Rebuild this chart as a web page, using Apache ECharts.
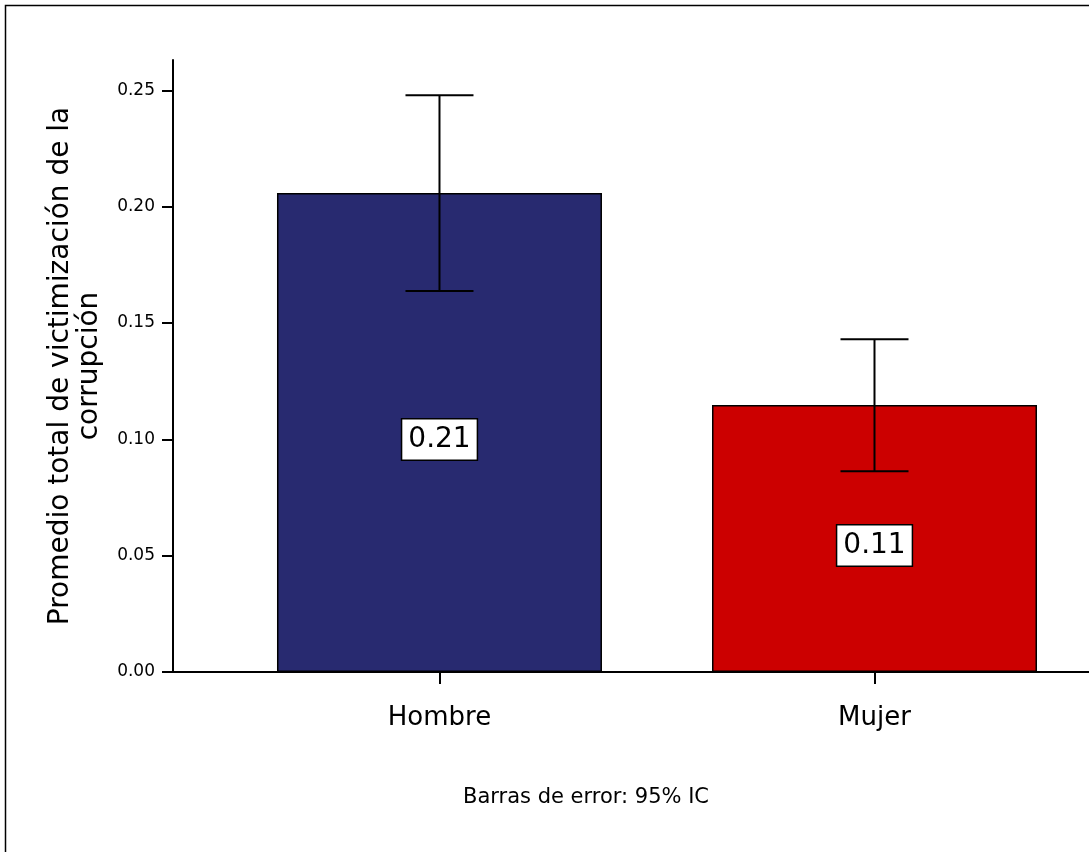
<!DOCTYPE html>
<html>
<head>
<meta charset="utf-8">
<script src="https://cdn.jsdelivr.net/npm/echarts@6/dist/echarts.min.js"></script>
<style>html,body{margin:0;padding:0;background:#fff}#c{width:1089px;height:852px}</style>
</head>
<body>
<div id="c"></div>
<script>
const categories = ['Hombre', 'Mujer'];
const means = [0.2058, 0.1147];
const ciLower = [0.1637, 0.0863];
const ciUpper = [0.2479, 0.1430];
const yTicks = [0, 0.05, 0.10, 0.15, 0.20, 0.25];
const barColors = ['#282A70', '#CC0000'];

const chart = echarts.init(document.getElementById('c'));
const FONT = 'DejaVu Sans';
chart.setOption({
  animation: false,
  backgroundColor: '#fff',
  graphic: [{
    type: 'rect', shape: {x: 5.5, y: 5.5, width: 1200, height: 1000},
    style: {fill: 'none', stroke: '#000', lineWidth: 1.5}, silent: true, z: 0
  }, {
    type: 'text', x: 586, y: 798,
    style: {text: 'Barras de error: 95% IC', font: '21px "DejaVu Sans"', fill: '#000', align: 'center', verticalAlign: 'middle'}
  }],
  grid: {left: 173, right: 0, top: 60, bottom: 180, containLabel: false},
  xAxis: {
    type: 'value', min: -0.6126, max: 1.4931,
    splitLine: {show: false},
    axisLine: {show: true, onZero: false, lineStyle: {color: '#000', width: 2}},
    axisTick: {show: true, length: 12, customValues: [0, 1], lineStyle: {color: '#000', width: 2}},
    axisLabel: {customValues: [0, 1], formatter: v => categories[Math.round(v)] || '',
      fontFamily: FONT, fontSize: 26, color: '#000', margin: 33}
  },
  yAxis: {
    type: 'value', min: 0, max: 0.263,
    splitLine: {show: false},
    axisLine: {show: true, onZero: false, lineStyle: {color: '#000', width: 2}},
    axisTick: {show: true, length: 11, customValues: yTicks, lineStyle: {color: '#000', width: 2}},
    axisLabel: {customValues: yTicks, formatter: v => v.toFixed(2),
      fontFamily: FONT, fontSize: 17, color: '#000', margin: 18},
    name: 'Promedio total de victimización de la\ncorrupción',
    nameLocation: 'middle', nameGap: 69, nameRotate: 90,
    nameTextStyle: {fontFamily: FONT, fontSize: 28, color: '#000', lineHeight: 29, align: 'center'}
  },
  series: [{
    type: 'bar',
    barWidth: 325,
    data: means.map((m, i) => ({value: [i, m], itemStyle: {color: barColors[i]}})),
    itemStyle: {borderColor: '#000', borderWidth: 1.5},
    label: {
      show: true, position: 'inside', offset: [0, 7],
      formatter: p => p.value[1].toFixed(2),
      fontFamily: FONT, fontSize: 28, color: '#000',
      backgroundColor: '#fff', borderColor: '#000', borderWidth: 1.5,
      padding: [7, 6, 5, 6]
    },
    z: 2
  }, {
    type: 'custom',
    z: 3,
    data: means.map((m, i) => [i, ciLower[i], ciUpper[i]]),
    renderItem: (params, api) => {
      const x = api.value(0);
      const lo = api.coord([x, api.value(1)]);
      const hi = api.coord([x, api.value(2)]);
      const hw = 34;
      const st = {stroke: '#000', lineWidth: 2};
      return {type: 'group', children: [
        {type: 'line', shape: {x1: lo[0], y1: lo[1], x2: hi[0], y2: hi[1]}, style: st},
        {type: 'line', shape: {x1: lo[0] - hw, y1: lo[1], x2: lo[0] + hw, y2: lo[1]}, style: st},
        {type: 'line', shape: {x1: hi[0] - hw, y1: hi[1], x2: hi[0] + hw, y2: hi[1]}, style: st}
      ]};
    }
  }]
});
</script>
</body>
</html>
